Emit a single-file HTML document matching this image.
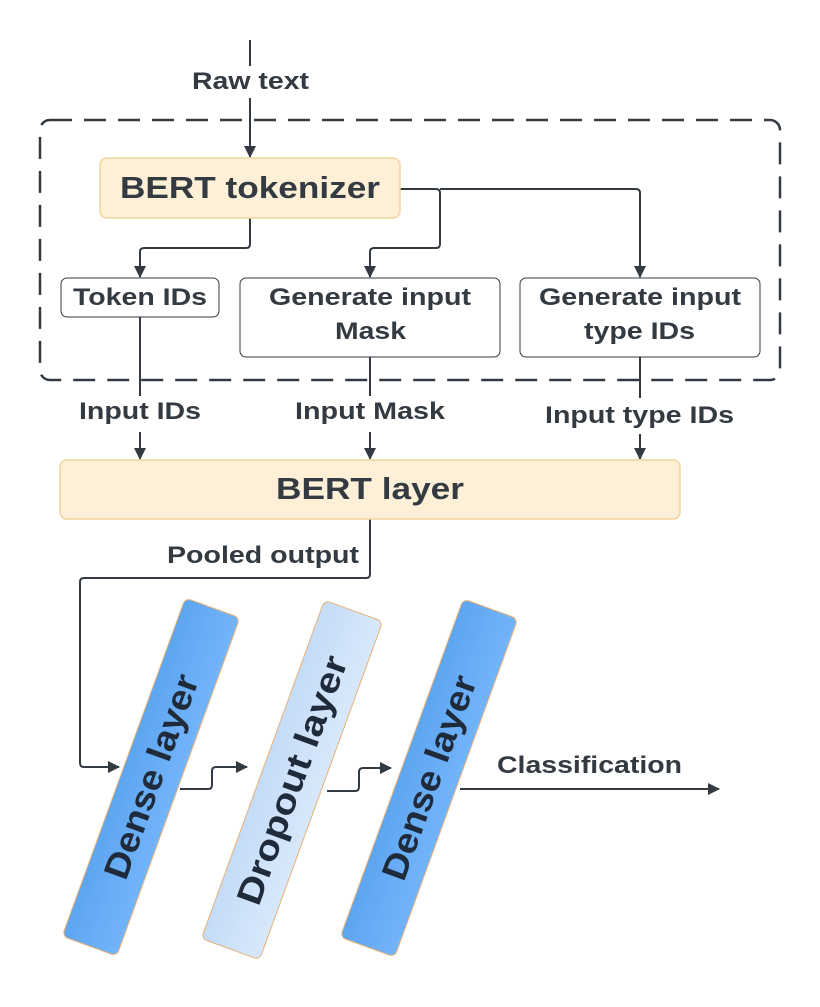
<!DOCTYPE html>
<html><head><meta charset="utf-8"><style>
html,body{margin:0;padding:0;background:#fff;width:820px;height:1007px;overflow:hidden}
svg{display:block}
text{font-family:"Liberation Sans",Arial,Helvetica,sans-serif;font-weight:bold;fill:#333a42}
</style></head><body>
<svg width="820" height="1007" viewBox="0 0 820 1007" xmlns="http://www.w3.org/2000/svg" font-family="Liberation Sans, Arial, sans-serif" font-weight="bold">
<defs>
<marker id="a" markerWidth="12" markerHeight="12" refX="11" refY="6" orient="auto" markerUnits="userSpaceOnUse">
<path d="M0,0 L12,6 L0,12 Z" fill="#333a42"/></marker>
<linearGradient id="db" x1="0" y1="0" x2="1" y2="0"><stop offset="0" stop-color="#5da5f0"/><stop offset="1" stop-color="#72b4fa"/></linearGradient>
<linearGradient id="lb" x1="0" y1="0" x2="1" y2="0"><stop offset="0" stop-color="#c4dcf7"/><stop offset="1" stop-color="#d8e8fb"/></linearGradient>
</defs>
<g fill="none" stroke="#333a42" stroke-width="2">
<rect x="40" y="120" width="740" height="260" rx="10" stroke-dasharray="22,12" stroke-width="2.5"/>
<line x1="250" y1="40" x2="250" y2="66"/>
<line x1="250" y1="98" x2="250" y2="157" marker-end="url(#a)"/>
<path d="M250,218 V244 Q250,248 246,248 H144 Q140,248 140,252 V277" marker-end="url(#a)"/>
<path d="M400,189 H436 Q440,189 440,193 V244 Q440,248 436,248 H374 Q370,248 370,252 V277" marker-end="url(#a)"/>
<path d="M440,189 H636 Q640,189 640,193 V277" marker-end="url(#a)"/>
<path d="M140,317 V396"/><path d="M140,432 V459" marker-end="url(#a)"/>
<path d="M370,357 V396"/><path d="M370,432 V459" marker-end="url(#a)"/>
<path d="M640,357 V398"/><path d="M640,434 V459" marker-end="url(#a)"/>
<path d="M370,519 V574 Q370,578 366,578 H84 Q80,578 80,582 V763 Q80,767 84,767 H119" marker-end="url(#a)"/>
<path d="M180,789 H208 Q212,789 212,785 V771 Q212,767 216,767 H247" marker-end="url(#a)"/>
<path d="M327,791 H355 Q359,791 359,787 V772 Q359,768 363,768 H391" marker-end="url(#a)"/>
<path d="M460,789 H719" marker-end="url(#a)"/>
</g>
<rect x="100" y="158" width="300" height="60" rx="7" fill="#fdf0d6" stroke="#f3d49c" stroke-width="1.5"/>
<text x="120" y="198" font-size="31" textLength="260" lengthAdjust="spacingAndGlyphs">BERT tokenizer</text>
<rect x="61" y="278" width="158" height="39" rx="6" fill="#fff" stroke="#333a42" stroke-width="1"/>
<text x="73" y="305" font-size="24" textLength="134" lengthAdjust="spacingAndGlyphs">Token IDs</text>
<rect x="240" y="278" width="260" height="79" rx="6" fill="#fff" stroke="#333a42" stroke-width="1"/>
<text x="269" y="305" font-size="24" textLength="202" lengthAdjust="spacingAndGlyphs">Generate input</text>
<text x="335" y="339" font-size="24" textLength="71" lengthAdjust="spacingAndGlyphs">Mask</text>
<rect x="520" y="278" width="240" height="79" rx="6" fill="#fff" stroke="#333a42" stroke-width="1"/>
<text x="539" y="305" font-size="24" textLength="202" lengthAdjust="spacingAndGlyphs">Generate input</text>
<text x="584" y="339" font-size="24" textLength="111" lengthAdjust="spacingAndGlyphs">type IDs</text>
<text x="192" y="89" font-size="24" textLength="117" lengthAdjust="spacingAndGlyphs">Raw text</text>
<text x="79" y="419" font-size="24" textLength="122" lengthAdjust="spacingAndGlyphs">Input IDs</text>
<text x="295" y="419" font-size="24" textLength="150" lengthAdjust="spacingAndGlyphs">Input Mask</text>
<text x="545" y="423" font-size="24" textLength="189" lengthAdjust="spacingAndGlyphs">Input type IDs</text>
<rect x="60" y="460" width="620" height="59" rx="7" fill="#fdf0d6" stroke="#f3d49c" stroke-width="1.5"/>
<text x="276" y="499" font-size="31" textLength="188" lengthAdjust="spacingAndGlyphs">BERT layer</text>
<text x="167" y="563" font-size="24" textLength="192" lengthAdjust="spacingAndGlyphs">Pooled output</text>
<text x="497" y="773" font-size="24" textLength="185" lengthAdjust="spacingAndGlyphs">Classification</text>
<g transform="translate(151,777) rotate(20)">
<rect x="-29" y="-180" width="58" height="360" rx="6" fill="url(#db)" stroke="#e8b27a" stroke-width="1"/>
<text transform="rotate(-90)" x="-107" y="12" font-size="35" textLength="215" lengthAdjust="spacingAndGlyphs" style="fill:#1f2a3a">Dense layer</text>
</g>
<g transform="translate(292,780) rotate(20)">
<rect x="-31" y="-180" width="62" height="360" rx="6" fill="url(#lb)" stroke="#e8b27a" stroke-width="1"/>
<text transform="rotate(-90)" x="-131" y="12" font-size="35" textLength="262" lengthAdjust="spacingAndGlyphs" style="fill:#1f2a3a">Dropout layer</text>
</g>
<g transform="translate(429,778) rotate(20)">
<rect x="-29" y="-180" width="58" height="360" rx="6" fill="url(#db)" stroke="#e8b27a" stroke-width="1"/>
<text transform="rotate(-90)" x="-107" y="12" font-size="35" textLength="215" lengthAdjust="spacingAndGlyphs" style="fill:#1f2a3a">Dense layer</text>
</g>
</svg>
</body></html>
